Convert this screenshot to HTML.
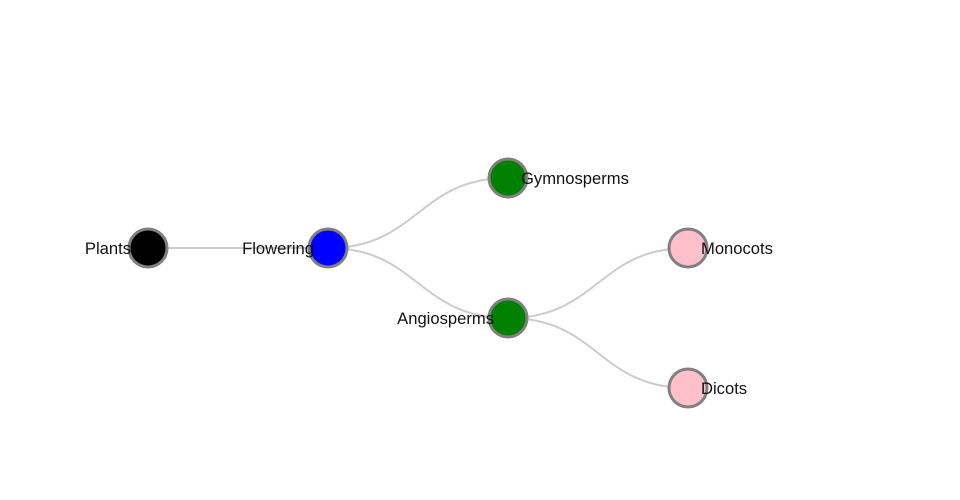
<!DOCTYPE html>
<html><head><meta charset="utf-8"><style>
html,body{margin:0;padding:0;background:#fff;}
svg{display:block;}
text{font-family:"Liberation Sans",sans-serif;font-size:16.6px;fill:#111;}
</style></head><body>
<svg width="960" height="500" viewBox="0 0 960 500">
<g fill="none" stroke="#ccc" stroke-width="2">
<path d="M148,248 C238,248 238,248 328,248"/>
<path d="M328,248 C418,248 418,178 508,178"/>
<path d="M328,248 C418,248 418,318 508,318"/>
<path d="M508,318 C598,318 598,248 688,248"/>
<path d="M508,318 C598,318 598,388 688,388"/>
</g>
<g stroke="#808080" stroke-width="3">
<circle cx="148" cy="248" r="19" fill="#000"/>
<circle cx="328" cy="248" r="19" fill="#0000ff"/>
<circle cx="508" cy="178" r="19" fill="#008000"/>
<circle cx="508" cy="318" r="19" fill="#008000"/>
<circle cx="688" cy="248" r="19" fill="#ffc0cb"/>
<circle cx="688" cy="388" r="19" fill="#ffc0cb"/>
</g>
<text x="131" y="254" text-anchor="end">Plants</text>
<text x="314" y="254" text-anchor="end">Flowering</text>
<text x="521" y="184">Gymnosperms</text>
<text x="494" y="324" text-anchor="end">Angiosperms</text>
<text x="701" y="254">Monocots</text>
<text x="701" y="394">Dicots</text>
</svg>
</body></html>
